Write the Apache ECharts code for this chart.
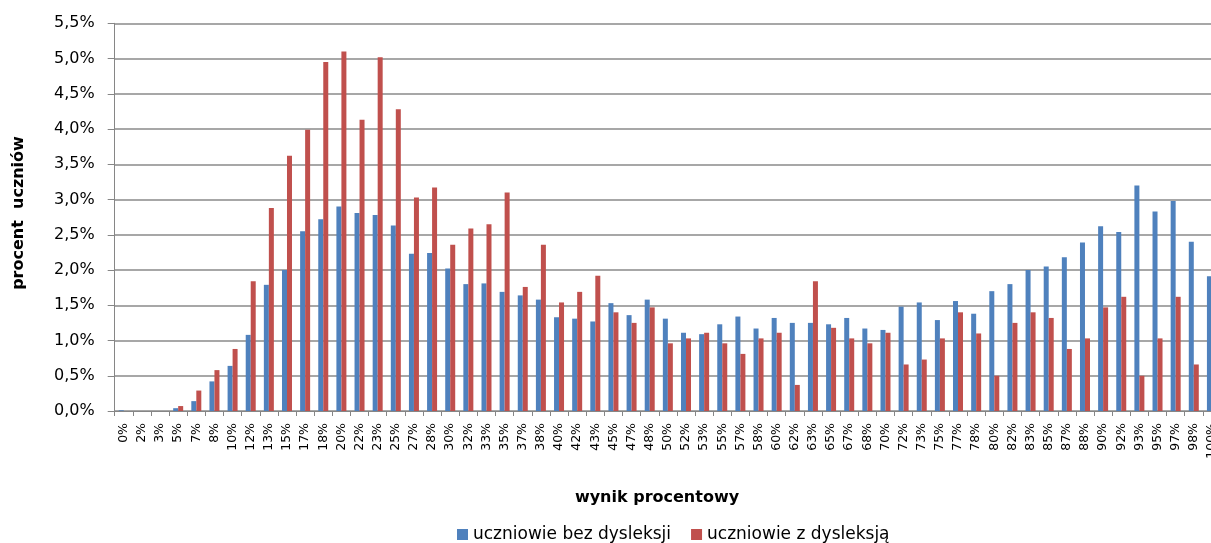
<!DOCTYPE html>
<html><head><meta charset="utf-8">
<script src="https://cdn.jsdelivr.net/npm/echarts@6/dist/echarts.min.js"></script>
<style>html,body{margin:0;padding:0;background:#fff;overflow:hidden}#c{width:1211px;height:543px}</style>
</head><body><div id="c"></div>
<script>
const categories = ['0%','2%','3%','5%','7%','8%','10%','12%','13%','15%','17%','18%','20%','22%','23%','25%','27%','28%','30%','32%','33%','35%','37%','38%','40%','42%','43%','45%','47%','48%','50%','52%','53%','55%','57%','58%','60%','62%','63%','65%','67%','68%','70%','72%','73%','75%','77%','78%','80%','82%','83%','85%','87%','88%','90%','92%','93%','95%','97%','98%','100%'];
const seriesNames = ['uczniowie bez dysleksji', 'uczniowie z dysleksją'];
const bezDysleksji = [0.01,0,0,0.04,0.14,0.42,0.64,1.08,1.79,2.00,2.55,2.72,2.90,2.81,2.78,2.63,2.23,2.24,2.02,1.80,1.81,1.69,1.64,1.58,1.33,1.31,1.27,1.53,1.36,1.58,1.31,1.11,1.09,1.23,1.34,1.17,1.32,1.25,1.25,1.23,1.32,1.17,1.15,1.48,1.54,1.29,1.56,1.38,1.70,1.80,2.00,2.05,2.18,2.39,2.62,2.54,3.20,2.83,2.98,2.40,1.91];
const zDysleksja = [0,0,0,0.07,0.29,0.58,0.88,1.84,2.88,3.62,3.99,4.95,5.10,4.13,5.02,4.28,3.03,3.17,2.36,2.59,2.65,3.10,1.76,2.36,1.54,1.69,1.92,1.40,1.25,1.47,0.96,1.03,1.11,0.96,0.81,1.03,1.11,0.37,1.84,1.18,1.03,0.96,1.11,0.66,0.73,1.03,1.40,1.10,0.50,1.25,1.40,1.32,0.88,1.03,1.47,1.62,0.50,1.03,1.62,0.66,0.88];
const yMin = 0, yMax = 5.5, yStep = 0.5;
const xTitle = 'wynik procentowy';
const yTitle = 'procent  uczniów';

const FONT = '"DejaVu Sans", sans-serif';
const AXIS_GRAY = '#868686';
const chart = echarts.init(document.getElementById('c'), null, {renderer: 'canvas'});
chart.setOption({
  animation: false,
  backgroundColor: '#fff',
  color: ['#4F81BD', '#C0504D'],
  grid: {left: 114.7, top: 23.3, width: 1106.3, bottom: 132, containLabel: false, outerBoundsMode: 'none'},
  legend: {
    data: seriesNames, left: 452, top: 521, icon: 'rect',
    itemWidth: 11, itemHeight: 11, itemGap: 20,
    textStyle: {fontFamily: FONT, fontSize: 17, color: '#000'}
  },
  xAxis: {
    type: 'category', data: categories, boundaryGap: true,
    axisLine: {lineStyle: {color: AXIS_GRAY, width: 1}},
    axisTick: {show: true, interval: 0, length: 5, lineStyle: {color: AXIS_GRAY}},
    axisLabel: {interval: 0, rotate: 90, margin: 12, fontFamily: FONT, fontSize: 12.5, color: '#000'}
  },
  yAxis: {
    type: 'value', min: yMin, max: yMax, interval: yStep,
    axisLine: {show: true, lineStyle: {color: AXIS_GRAY, width: 1}},
    axisTick: {show: true, length: 7, lineStyle: {color: AXIS_GRAY}},
    splitLine: {show: true, lineStyle: {color: '#8a8a8a', width: 1.5}},
    axisLabel: {margin: 20, fontFamily: FONT, fontSize: 16, color: '#000',
      formatter: v => v.toFixed(1).replace('.', ',') + '%'}
  },
  graphic: [
    {type: 'text', x: 657, y: 497.5, style: {text: xTitle, font: 'bold 16px ' + FONT, fill: '#000', align: 'center', verticalAlign: 'middle'}},
    {type: 'text', x: 19, y: 213, rotation: Math.PI / 2, style: {text: yTitle, font: 'bold 16px ' + FONT, fill: '#000', align: 'center', verticalAlign: 'middle'}}
  ],
  series: [
    {name: seriesNames[0], type: 'bar', data: bezDysleksji, barWidth: 5, barGap: '0%'},
    {name: seriesNames[1], type: 'bar', data: zDysleksja, barWidth: 5, barGap: '0%'}
  ]
});
</script></body></html>
